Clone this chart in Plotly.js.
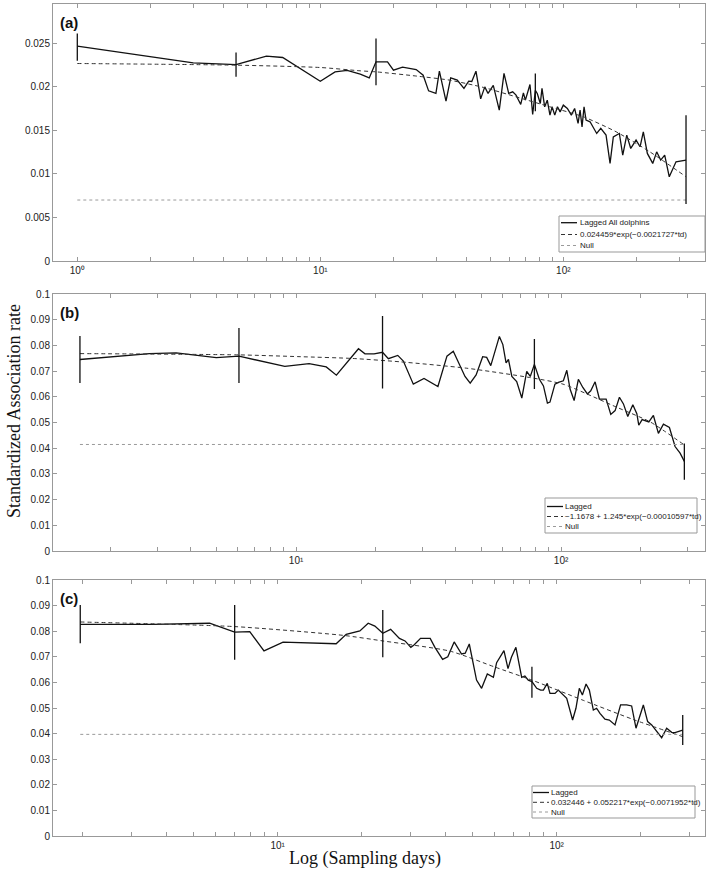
<!DOCTYPE html>
<html>
<head>
<meta charset="utf-8">
<script src="https://cdn.plot.ly/plotly-3.0.1.min.js"></script>
<style>
  html, body { margin: 0; padding: 0; background: #fff; }
  #chart { width: 709px; height: 872px; }
</style>
</head>
<body>
<div id="chart"></div>
<script>
// ---- data (lag in days, standardized association rate) ----

// (a) all dolphins
const aDays = [1, 3.0, 4.5, 6.0, 7.0, 10, 11.5, 12.9, 14.6, 15.9,
    16.95, 18.9, 20.0, 21.8, 24.8, 26.5, 27.9, 29.9, 30.9, 32.9,
    34.4, 36.6, 39.0, 40.8, 42.0, 43.7, 45.7, 47.5, 49.0, 51.5,
    54.5, 57.0, 59.6, 61.9, 63.9, 66.8, 68.5, 69.8, 72.9, 74.8,
    76.7, 78.2, 80.4, 81.7, 83.8, 85.9, 88.1, 89.9, 92.2, 94.6,
    97.0, 100, 103.9, 107.9, 111.3, 115.0, 117.2, 119.4, 121.7, 124.0,
    128.8, 137.2, 142.6, 149.9, 155.7, 160.6, 170.0, 175.6, 182.4, 189.4,
    199.2, 206.9, 213.4, 221.7, 233.3, 242.2, 251.6, 261.3, 272.9, 290.9,
    319.8];
const aLagged = [0.02466, 0.02274, 0.02255, 0.02351, 0.02336, 0.02064, 0.02171, 0.02187, 0.02144, 0.02102,
    0.02286, 0.02286, 0.02190, 0.02225, 0.02198, 0.02133, 0.01953, 0.01923, 0.02179, 0.01835,
    0.02102, 0.02076, 0.01981, 0.02064, 0.02061, 0.02179, 0.01861, 0.01999, 0.01923, 0.02015,
    0.01732, 0.02153, 0.01923, 0.01942, 0.01904, 0.01797, 0.01930, 0.01846, 0.02026, 0.01682,
    0.01960, 0.01920, 0.01808, 0.01981, 0.01770, 0.01846, 0.01674, 0.01770, 0.01674, 0.01770,
    0.01712, 0.01789, 0.01751, 0.01674, 0.01751, 0.01579, 0.01732, 0.01540, 0.01770, 0.01617,
    0.01598, 0.01464, 0.01522, 0.01445, 0.01120, 0.01425, 0.01464, 0.01216, 0.01445, 0.01292,
    0.01388, 0.01311, 0.01483, 0.01235, 0.01120, 0.01253, 0.01158, 0.01216, 0.00967, 0.01139,
    0.01158];
const aFitDays = [1, 4.5, 10, 14.6, 17, 25, 34, 47, 64, 88, 121, 165, 227, 320];
const aFit = [0.02267, 0.02248, 0.02221, 0.02183, 0.02171, 0.02122, 0.02076, 0.01992, 0.01884, 0.01770, 0.01655, 0.01483, 0.01253, 0.00967];
const aNull = 0.0070;
const aErrDays = [1, 4.5, 16.95, 76.7, 319.8];
const aErrLow = [0.0230, 0.02114, 0.02018, 0.0172, 0.00654];
const aErrHigh = [0.0261, 0.02393, 0.02554, 0.02153, 0.01674];
const aLabels = ['Lagged All dolphins', '0.024459*exp(\u22120.0021727*td)', 'Null'];

// (b)
const bDays = [1.53, 2.80, 3.53, 5.00, 6.09, 9.07, 11.2, 13.0, 14.2, 17.2,
    18.2, 19.7, 21.2, 22.3, 24.2, 25.4, 27.7, 30.4, 34.3, 37.1,
    39.2, 43.4, 45.4, 47.8, 50.6, 52.4, 54.3, 56.4, 58.5, 60.3,
    62.0, 63.3, 65.2, 68.0, 71.1, 74.2, 76.5, 79.3, 82.8, 85.8,
    88.8, 90.8, 94.8, 97.7, 102, 105.1, 108.1, 112, 116.2, 120.8,
    125.7, 129.4, 134.4, 139.5, 147.9, 154, 159.9, 166, 171.9, 178.5,
    186.5, 193.1, 196.4, 202.2, 214.3, 223, 232.9, 243.3, 256.3, 269.2,
    281.2, 291.8];
const bLagged = [0.0746, 0.0769, 0.0772, 0.0753, 0.0759, 0.0719, 0.0730, 0.0717, 0.0685, 0.0788,
    0.0768, 0.0768, 0.0774, 0.0749, 0.0762, 0.0740, 0.0650, 0.0672, 0.0641, 0.0759,
    0.0778, 0.0680, 0.0654, 0.0686, 0.0757, 0.0754, 0.0722, 0.0778, 0.0836, 0.0804,
    0.0733, 0.0746, 0.0680, 0.0660, 0.0596, 0.0700, 0.0680, 0.0727, 0.0669, 0.0643,
    0.0576, 0.0580, 0.0650, 0.0657, 0.0663, 0.0704, 0.0631, 0.0586, 0.0669, 0.0637,
    0.0612, 0.0624, 0.0659, 0.0592, 0.0592, 0.0532, 0.0547, 0.0599, 0.0573, 0.0524,
    0.0570, 0.0535, 0.0490, 0.0512, 0.0503, 0.0528, 0.0458, 0.0494, 0.0481, 0.0407,
    0.0381, 0.0349];
const bFitDays = [1.53, 6.09, 10.35, 16.4, 24.7, 44.1, 75.9, 101.7, 162.2, 216.8, 291.8];
const bFit = [0.0769, 0.0764, 0.0757, 0.0750, 0.0737, 0.0712, 0.0676, 0.0650, 0.0560, 0.0503, 0.0413];
const bNull = 0.0415;
const bErrDays = [1.53, 6.09, 21.2, 79.3, 291.8];
const bErrLow = [0.0654, 0.0654, 0.0633, 0.0631, 0.0278];
const bErrHigh = [0.0838, 0.0869, 0.0915, 0.0826, 0.0419];
const bLabels = ['Lagged', '\u22121.1678 + 1.245*exp(\u22120.00010597*td)', 'Null'];

// (c)
const cDays = [1.96, 3.57, 5.70, 7.01, 7.94, 8.93, 10.45, 16.2, 17.6, 18.6,
    19.7, 21.1, 22.3, 23.8, 25.4, 27.3, 28.6, 30.0, 30.8, 32.5,
    35.2, 36.6, 39.0, 40.7, 42.9, 45.6, 47.0, 48.6, 51.6, 53.8,
    56.4, 59.3, 60.9, 64.7, 66.9, 68.8, 71.4, 74.9, 76.9, 79.1,
    81.5, 84.8, 87.6, 89.6, 92.5, 94.6, 98.6, 101.3, 105.6, 108.6,
    114, 117.2, 120.5, 123.6, 127.4, 130.9, 135.3, 139, 142.9, 148.9,
    154.4, 161.8, 169.4, 178.1, 185.6, 192.4, 204.4, 211.8, 219, 237.8,
    247.8, 258.2, 265.5, 282.9];
const cLagged = [0.0827, 0.0827, 0.0831, 0.0796, 0.0798, 0.0723, 0.0757, 0.0751, 0.0788, 0.0794,
    0.0801, 0.0831, 0.0820, 0.0792, 0.0807, 0.0772, 0.0762, 0.0737, 0.0746, 0.0772,
    0.0772, 0.0737, 0.0690, 0.0700, 0.0758, 0.0711, 0.0714, 0.0750, 0.0609, 0.0577,
    0.0633, 0.0620, 0.0677, 0.0724, 0.0654, 0.0698, 0.0737, 0.0620, 0.0625, 0.0609,
    0.0603, 0.0577, 0.0570, 0.0570, 0.0596, 0.0557, 0.0557, 0.0570, 0.0551, 0.0538,
    0.0453, 0.0499, 0.0577, 0.0551, 0.0594, 0.0570, 0.0492, 0.0499, 0.0479, 0.0456,
    0.0453, 0.0434, 0.0512, 0.0512, 0.0508, 0.0421, 0.0512, 0.0447, 0.0434, 0.0384,
    0.0421, 0.0405, 0.0404, 0.0414];
const cFitDays = [1.96, 7.01, 17.1, 23.8, 41.5, 60, 81.5, 124.5, 188.2, 282.9];
const cFit = [0.0836, 0.0818, 0.0784, 0.0762, 0.0722, 0.0660, 0.0609, 0.0530, 0.0455, 0.0388];
const cNull = 0.0397;
const cErrDays = [1.96, 7.01, 23.8, 81.5, 282.9];
const cErrLow = [0.0753, 0.0688, 0.0698, 0.0540, 0.0355];
const cErrHigh = [0.0902, 0.0902, 0.0883, 0.0661, 0.0473];
const cLabels = ['Lagged', '0.032446 + 0.052217*exp(\u22120.0071952*td)', 'Null'];

const decadeTicks = [1, 10, 100];
const decadeLabels = ['10\u2070', '10\u00b9', '10\u00b2'];

// ---- page geometry ----
const W = 709, H = 872;
const M = { l: 53, r: 4, t: 4, b: 36 };
const px2x = px => (px - M.l) / (W - M.l - M.r);
const py2y = py => 1 - (py - M.t) / (H - M.t - M.b);

const SANS = '"Liberation Sans", Arial, Helvetica, sans-serif';
const SERIF = '"Liberation Serif", "Times New Roman", serif';
const LAG_COLOR = '#111';
const FIT_COLOR = '#333';
const NULL_COLOR = '#9a9a9a';
const AXIS_COLOR = '#999';

const panels = [
    { days: aDays, lagged: aLagged, fitDays: aFitDays, fit: aFit, nullRate: aNull,
      errDays: aErrDays, errLow: aErrLow, errHigh: aErrHigh, labels: aLabels, tag: '(a)',
      top: 4, bottom: 261, xRange: [-0.100, 2.583], yRange: [0, 0.0295], dy: 0.005,
      legend: { box: [559, 216, 705, 252], rows: [222.7, 234.5, 245.5], sample: [561, 577], textX: 579 } },
    { days: bDays, lagged: bLagged, fitDays: bFitDays, fit: bFit, nullRate: bNull,
      errDays: bErrDays, errLow: bErrLow, errHigh: bErrHigh, labels: bLabels, tag: '(b)',
      top: 294.3, bottom: 551, xRange: [0.083, 2.543], yRange: [0, 0.1], dy: 0.01,
      legend: { box: [545, 498, 697, 533], rows: [506.5, 516.5, 526.5], sample: [547, 563], textX: 564 } },
    { days: cDays, lagged: cLagged, fitDays: cFitDays, fit: cFit, nullRate: cNull,
      errDays: cErrDays, errLow: cErrLow, errHigh: cErrHigh, labels: cLabels, tag: '(c)',
      top: 580, bottom: 836, xRange: [0.1946, 2.5315], yRange: [0, 0.1], dy: 0.01,
      legend: { box: [532, 786, 695, 818], rows: [792.5, 802.3, 812], sample: [533, 549], textX: 550 } }
];

// minor log ticks at 2..9 of each decade (unlabelled)
const minorVals = [];
decadeTicks.forEach(base => {
    for (let k = 2; k <= 9; k++) {
        if (base * k <= 400) minorVals.push(base * k);
    }
});

const traces = [];
const shapes = [];
const annotations = [];
const layout = {
    width: W,
    height: H,
    margin: M,
    paper_bgcolor: '#fff',
    plot_bgcolor: '#fff',
    font: { family: SANS, size: 10, color: '#222' },
    showlegend: false
};

const lineStyles = [
    { color: LAG_COLOR, width: 1.3, dash: 'solid' },
    { color: FIT_COLOR, width: 1, dash: '4px,3px' },
    { color: NULL_COLOR, width: 1, dash: 'dot' }
];

panels.forEach((p, i) => {
    const n = i === 0 ? '' : String(i + 1);
    const xa = 'x' + n, ya = 'y' + n;

    // lagged rate
    traces.push({
        x: p.days, y: p.lagged, xaxis: xa, yaxis: ya,
        mode: 'lines', line: lineStyles[0]
    });
    // fitted model
    traces.push({
        x: p.fitDays, y: p.fit, xaxis: xa, yaxis: ya,
        mode: 'lines', line: Object.assign({ shape: 'spline', smoothing: 0.6 }, lineStyles[1])
    });
    // null association rate
    const first = p.days[0], last = p.days[p.days.length - 1];
    traces.push({
        x: [first, last], y: [p.nullRate, p.nullRate], xaxis: xa, yaxis: ya,
        mode: 'lines', line: lineStyles[2]
    });
    // jackknife error bars
    const mid = p.errLow.map((lo, j) => (lo + p.errHigh[j]) / 2);
    const half = p.errLow.map((lo, j) => (p.errHigh[j] - lo) / 2);
    traces.push({
        x: p.errDays, y: mid, xaxis: xa, yaxis: ya,
        mode: 'markers', marker: { size: 1, opacity: 0 },
        error_y: { type: 'data', array: half, visible: true, width: 0, thickness: 1.3, color: LAG_COLOR }
    });

    layout['xaxis' + n] = {
        type: 'log', range: p.xRange, domain: [0, 1], anchor: ya,
        tickmode: 'array', tickvals: decadeTicks, ticktext: decadeLabels,
        ticks: 'inside', ticklen: 4, tickwidth: 1, tickcolor: AXIS_COLOR,
        minor: { tickmode: 'array', tickvals: minorVals, ticks: 'inside', ticklen: 4, tickwidth: 1, tickcolor: AXIS_COLOR, showgrid: false },
        showline: true, linecolor: AXIS_COLOR, linewidth: 1, mirror: 'ticks',
        showgrid: false, zeroline: false,
        tickfont: { family: SANS, size: 10, color: '#222' }
    };
    layout['yaxis' + n] = {
        range: p.yRange, domain: [py2y(p.bottom), py2y(p.top)], anchor: xa,
        tick0: 0, dtick: p.dy,
        ticks: 'inside', ticklen: 4, tickwidth: 1, tickcolor: AXIS_COLOR,
        showline: true, linecolor: AXIS_COLOR, linewidth: 1, mirror: 'ticks',
        showgrid: false, zeroline: false,
        tickfont: { family: SANS, size: 10, color: '#222' }
    };

    // panel tag
    annotations.push({
        xref: 'paper', yref: 'paper', x: px2x(58), y: py2y(p.top + 8),
        xanchor: 'left', yanchor: 'top', showarrow: false,
        text: '<b>' + p.tag + '</b>', font: { family: SANS, size: 15, color: '#111' }
    });

    // legend box drawn by hand, MATLAB style
    const lg = p.legend;
    shapes.push({
        type: 'rect', xref: 'paper', yref: 'paper',
        x0: px2x(lg.box[0]), x1: px2x(lg.box[2]), y0: py2y(lg.box[3]), y1: py2y(lg.box[1]),
        line: { color: AXIS_COLOR, width: 1 }, fillcolor: '#fff', layer: 'above'
    });
    lg.rows.forEach((ry, k) => {
        shapes.push({
            type: 'line', xref: 'paper', yref: 'paper',
            x0: px2x(lg.sample[0]), x1: px2x(lg.sample[1]), y0: py2y(ry), y1: py2y(ry),
            line: { color: lineStyles[k].color, width: lineStyles[k].width, dash: lineStyles[k].dash },
            layer: 'above'
        });
        annotations.push({
            xref: 'paper', yref: 'paper', x: px2x(lg.textX), y: py2y(ry),
            xanchor: 'left', yanchor: 'middle', showarrow: false, borderpad: 0,
            text: p.labels[k], font: { family: SANS, size: 8, color: '#222' }
        });
    });
});

// shared axis titles
annotations.push({
    xref: 'paper', yref: 'paper', x: px2x(14), y: py2y(411),
    xanchor: 'center', yanchor: 'middle', textangle: -90, showarrow: false,
    text: 'Standardized Association rate', font: { family: SERIF, size: 18, color: '#111' }
});
annotations.push({
    xref: 'paper', yref: 'paper', x: px2x(365), y: py2y(858),
    xanchor: 'center', yanchor: 'middle', showarrow: false,
    text: 'Log (Sampling days)', font: { family: SERIF, size: 18, color: '#111' }
});

layout.shapes = shapes;
layout.annotations = annotations;

Plotly.newPlot('chart', traces, layout, { displayModeBar: false, staticPlot: true });
</script>
</body>
</html>
